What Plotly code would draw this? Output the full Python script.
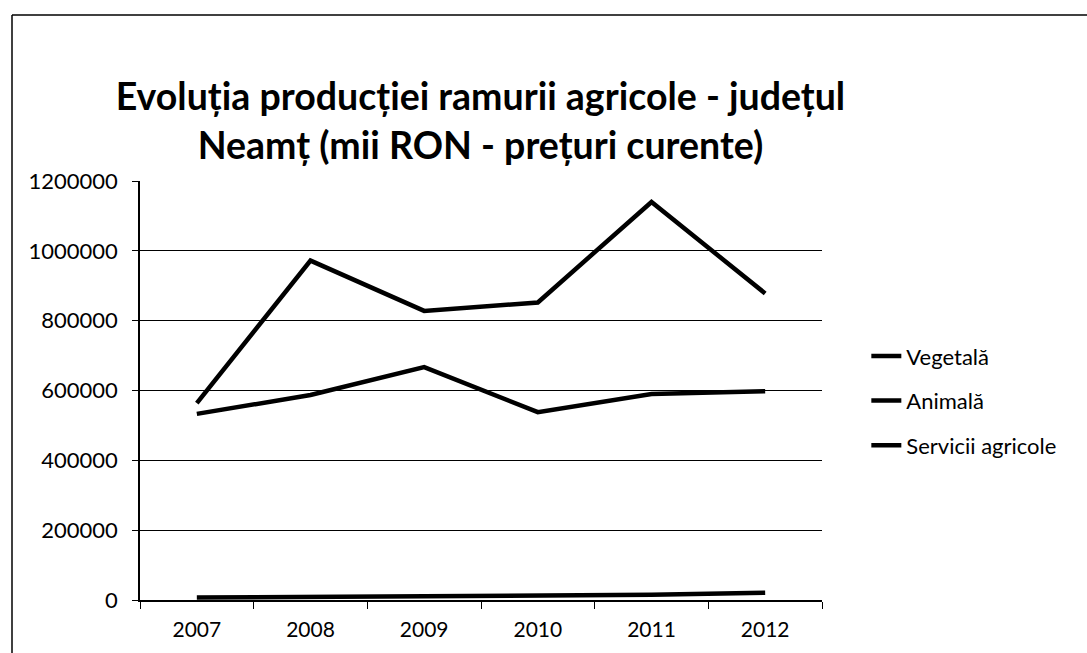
import plotly.graph_objects as go

# Categories and series (thousand RON, current prices)
years = ["2007", "2008", "2009", "2010", "2011", "2012"]
vegetala = [564000, 972000, 828000, 852000, 1140000, 878000]
animala = [533000, 587000, 667000, 538000, 590000, 598000]
servicii = [7000, 9000, 10000, 11000, 15000, 21000]

series_names = ["Vegetală", "Animală", "Servicii agricole"]
series_values = [vegetala, animala, servicii]
y_ticks = [0, 200000, 400000, 600000, 800000, 1000000, 1200000]

fig = go.Figure()
for i, (name, vals) in enumerate(zip(series_names, series_values)):
    fig.add_trace(go.Scatter(
        x=years, y=vals, name=name, mode="lines",
        line=dict(color="black", width=4.5),
        legendgroup=f"g{i}",
    ))

font_family = "Lato, Carlito, 'Open Sans', sans-serif"

fig.update_layout(
    width=1087, height=653,
    paper_bgcolor="white", plot_bgcolor="white",
    margin=dict(l=140, r=265, t=181, b=53),
    title=dict(
        text="<b>Evoluția producției ramurii agricole - județul<br>Neamț (mii RON - prețuri curente)</b>",
        x=0.442, xanchor="center", y=0.831, yanchor="middle",
        font=dict(family=font_family, size=37.5, color="black"),
    ),
    font=dict(family=font_family, size=20, color="black"),
    showlegend=True,
    legend=dict(
        x=1.065, xanchor="left", y=0.632, yanchor="top",
        font=dict(size=22, color="black"),
        tracegroupgap=13, bgcolor="rgba(0,0,0,0)",
        itemwidth=30,
    ),
    xaxis=dict(
        type="category", tickson="boundaries", range=[-0.5, 5.5],
        showline=True, linecolor="black", linewidth=1.5,
        ticks="outside", ticklen=7, tickcolor="black",
        showgrid=False, tickfont=dict(size=21),
        ticklabelstandoff=10,
    ),
    yaxis=dict(
        range=[0, 1200000], tickvals=y_ticks,
        ticktext=[str(v) for v in y_ticks],
        showline=True, linecolor="black", linewidth=1.5,
        ticks="outside", ticklen=6, tickcolor="black",
        showgrid=True, gridcolor="black", gridwidth=1.3,
        zeroline=False, tickfont=dict(size=22),
        ticklabelstandoff=10,
    ),
)

# Outer chart frame (top and left edges)
fig.add_shape(type="line", xref="paper", yref="paper",
              x0=-128/682, x1=1.45, y0=1.396, y1=1.396,
              line=dict(color="black", width=1.5))
fig.add_shape(type="line", xref="paper", yref="paper",
              x0=-128/682, x1=-128/682, y0=1.396, y1=-0.15,
              line=dict(color="black", width=1.5))

fig.write_html("out.html")
